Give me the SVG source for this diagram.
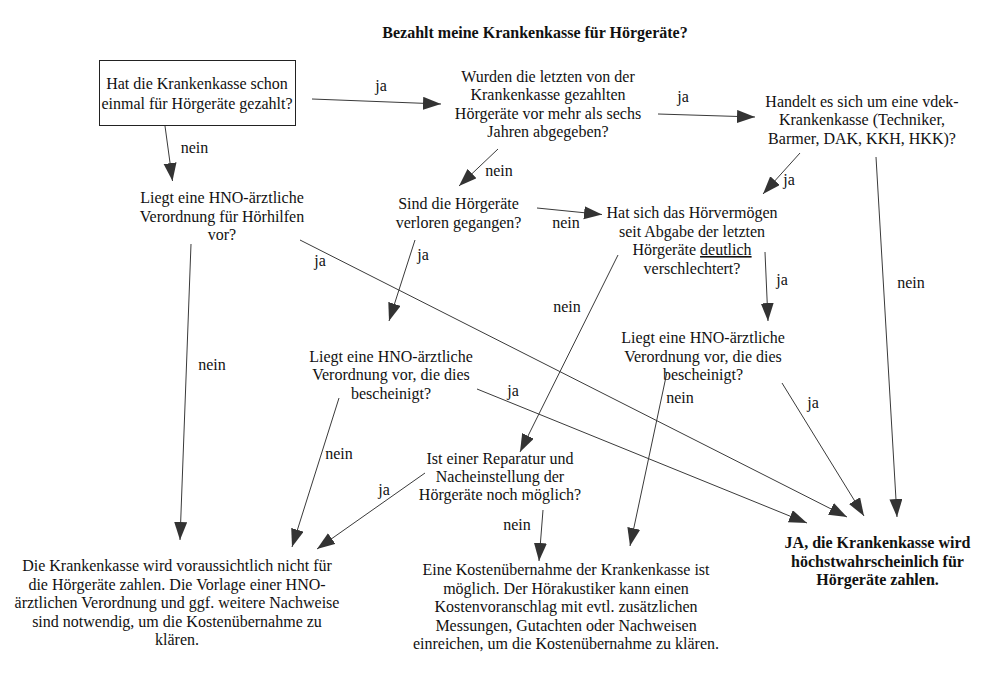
<svg xmlns="http://www.w3.org/2000/svg" width="997" height="678" viewBox="0 0 997 678">
<defs>
<marker id="ah" markerUnits="userSpaceOnUse" markerWidth="20" markerHeight="14" refX="18" refY="6.5" orient="auto">
<path d="M0,0 L18,6.5 L0,13 z" fill="#333"/>
</marker>
<style>
.t{font-family:"Liberation Serif","Times New Roman",serif;font-size:16px;fill:#111;text-anchor:middle}
.b{font-weight:bold}
.c line{stroke:#3a3a3a;stroke-width:1;marker-end:url(#ah)}
</style>
</defs>
<rect width="997" height="678" fill="#fff"/>
<text class="t b" x="535" y="38">Bezahlt meine Krankenkasse für Hörgeräte?</text>

<g class="c" id="connectors">
<line x1="312" y1="99" x2="441" y2="104"/>
<line x1="165" y1="126" x2="172.5" y2="181"/>
<line x1="658" y1="114" x2="755" y2="117"/>
<line x1="498" y1="149" x2="459" y2="186"/>
<line x1="800" y1="153" x2="763" y2="194"/>
<line x1="876" y1="157" x2="897" y2="517"/>
<line x1="537" y1="208" x2="602" y2="214.5"/>
<line x1="415" y1="240" x2="389" y2="321"/>
<line x1="300" y1="240" x2="847" y2="517"/>
<line x1="191" y1="244" x2="180" y2="540"/>
<line x1="618" y1="255" x2="520" y2="452"/>
<line x1="765" y1="252" x2="768" y2="321"/>
<line x1="477" y1="389" x2="807" y2="523"/>
<line x1="339" y1="398" x2="292" y2="547"/>
<line x1="667" y1="372" x2="630" y2="546"/>
<line x1="782" y1="383" x2="864" y2="516"/>
<line x1="425" y1="473" x2="317" y2="549"/>
<line x1="543" y1="510" x2="539" y2="561"/>
</g>
<g id="labels">
<text class="t" x="381" y="91">ja</text>
<text class="t" x="194.5" y="153">nein</text>
<text class="t" x="683" y="102">ja</text>
<text class="t" x="499" y="176">nein</text>
<text class="t" x="789" y="185">ja</text>
<text class="t" x="911" y="288">nein</text>
<text class="t" x="566" y="228">nein</text>
<text class="t" x="423" y="260">ja</text>
<text class="t" x="320" y="266">ja</text>
<text class="t" x="212" y="370">nein</text>
<text class="t" x="567" y="312">nein</text>
<text class="t" x="782" y="285">ja</text>
<text class="t" x="513" y="396">ja</text>
<text class="t" x="339" y="459">nein</text>
<text class="t" x="680" y="403">nein</text>
<text class="t" x="813" y="408">ja</text>
<text class="t" x="384" y="495">ja</text>
<text class="t" x="517" y="530">nein</text>
</g>

<g id="n1">
<rect x="99.5" y="60.5" width="196" height="65" fill="#fff" stroke="#222" stroke-width="1"/>
<text class="t" x="197" y="89">Hat die Krankenkasse schon</text>
<text class="t" x="197" y="108.5">einmal für Hörgeräte gezahlt?</text>
</g>
<g id="n2">
<text class="t" x="548" y="81.5">Wurden die letzten von der</text>
<text class="t" x="548" y="100">Krankenkasse gezahlten</text>
<text class="t" x="548" y="118.5">Hörgeräte vor mehr als sechs</text>
<text class="t" x="548" y="137">Jahren abgegeben?</text>
</g>
<g id="n3">
<text class="t" x="862" y="106.5">Handelt es sich um eine vdek-</text>
<text class="t" x="862" y="125">Krankenkasse (Techniker,</text>
<text class="t" x="862" y="143.5">Barmer, DAK, KKH, HKK)?</text>
</g>
<g id="n4">
<text class="t" x="222" y="203">Liegt eine HNO-ärztliche</text>
<text class="t" x="222" y="221.5">Verordnung für Hörhilfen</text>
<text class="t" x="222" y="240">vor?</text>
</g>
<g id="n5">
<text class="t" x="458.5" y="209">Sind die Hörgeräte</text>
<text class="t" x="458.5" y="227.5">verloren gegangen?</text>
</g>
<g id="n6">
<text class="t" x="692" y="218">Hat sich das Hörvermögen</text>
<text class="t" x="692" y="236.5">seit Abgabe der letzten</text>
<text class="t" x="692" y="255">Hörgeräte <tspan text-decoration="underline">deutlich</tspan></text>
<text class="t" x="692" y="273.5">verschlechtert?</text>
</g>
<g id="n7">
<text class="t" x="391" y="362">Liegt eine HNO-ärztliche</text>
<text class="t" x="391" y="380">Verordnung vor, die dies</text>
<text class="t" x="391" y="398.5">bescheinigt?</text>
</g>
<g id="n8">
<text class="t" x="703" y="343">Liegt eine HNO-ärztliche</text>
<text class="t" x="703" y="361.5">Verordnung vor, die dies</text>
<text class="t" x="703" y="380">bescheinigt?</text>
</g>
<g id="n9">
<text class="t" x="500" y="463.5">Ist einer Reparatur und</text>
<text class="t" x="500" y="481.5">Nacheinstellung der</text>
<text class="t" x="500" y="499.5">Hörgeräte noch möglich?</text>
</g>
<g id="n10">
<text class="t" x="177" y="571">Die Krankenkasse wird voraussichtlich nicht für</text>
<text class="t" x="177" y="589.5">die Hörgeräte zahlen. Die Vorlage einer HNO-</text>
<text class="t" x="177" y="608">ärztlichen Verordnung und ggf. weitere Nachweise</text>
<text class="t" x="177" y="626.5">sind notwendig, um die Kostenübernahme zu</text>
<text class="t" x="177" y="645">klären.</text>
</g>
<g id="n11">
<text class="t" x="566" y="575">Eine Kostenübernahme der Krankenkasse ist</text>
<text class="t" x="566" y="593.5">möglich. Der Hörakustiker kann einen</text>
<text class="t" x="566" y="612">Kostenvoranschlag mit evtl. zusätzlichen</text>
<text class="t" x="566" y="630.5">Messungen, Gutachten oder Nachweisen</text>
<text class="t" x="566" y="649">einreichen, um die Kostenübernahme zu klären.</text>
</g>
<g id="n12">
<text class="t b" x="877.5" y="548">JA, die Krankenkasse wird</text>
<text class="t b" x="877.5" y="566.5">höchstwahrscheinlich für</text>
<text class="t b" x="877.5" y="585">Hörgeräte zahlen.</text>
</g>
</svg>
